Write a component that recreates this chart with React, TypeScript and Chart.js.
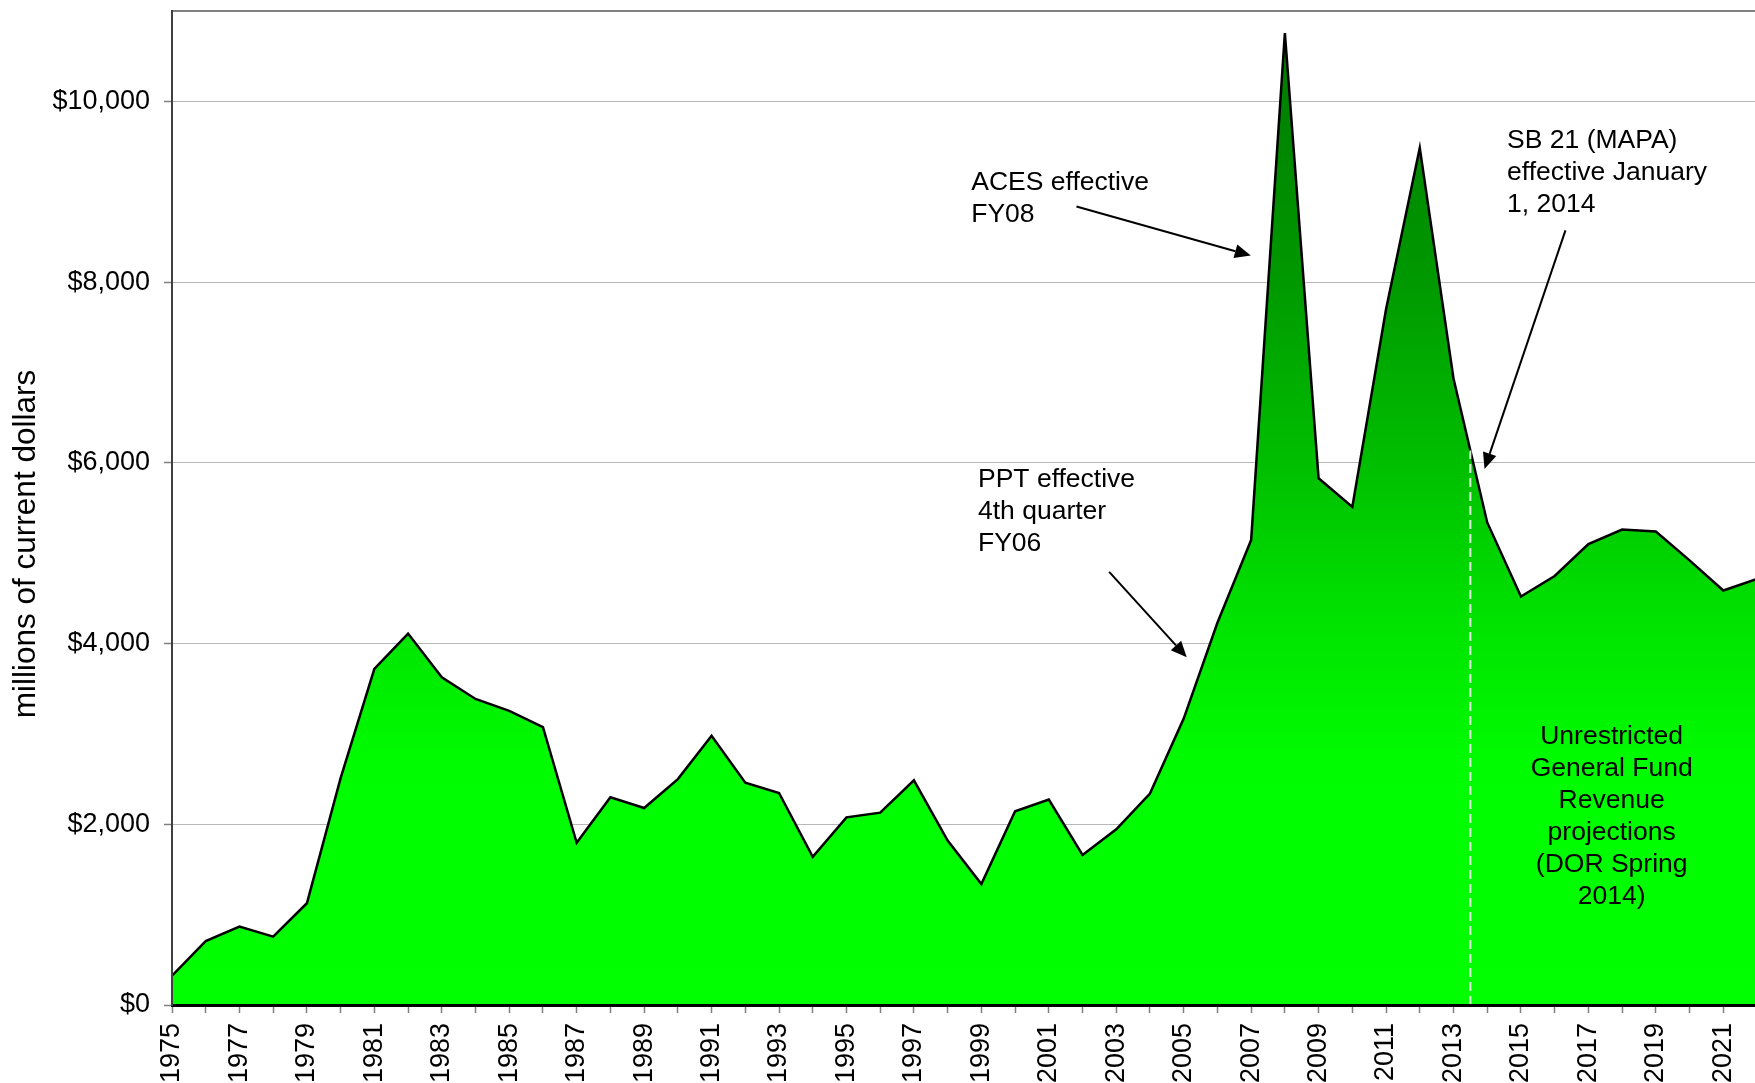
import React, { useEffect, useRef } from 'react';
import { Chart, registerables } from 'chart.js';

Chart.register(...registerables);

// ---------- data ----------
const years = [
  1975, 1976, 1977, 1978, 1979, 1980, 1981, 1982, 1983, 1984, 1985, 1986,
  1987, 1988, 1989, 1990, 1991, 1992, 1993, 1994, 1995, 1996, 1997, 1998,
  1999, 2000, 2001, 2002, 2003, 2004, 2005, 2006, 2007, 2008, 2009, 2010,
  2011, 2012, 2013, 2014, 2015, 2016, 2017, 2018, 2019, 2020, 2021, 2022,
];
const revenue = [
  324, 708, 867, 756, 1126, 2510, 3719, 4110, 3627, 3387, 3255, 3075,
  1795, 2299, 2180, 2500, 2980, 2461, 2346, 1641, 2077, 2129, 2487, 1819,
  1339, 2144, 2273, 1660, 1944, 2340, 3170, 4230, 5147, 10755, 5829, 5512,
  7700, 9486, 6933, 5340, 4521, 4748, 5100, 5261, 5240, 4921, 4587, 4714,
];
const labeledYears = [
  1975, 1977, 1979, 1981, 1983, 1985, 1987, 1989, 1991, 1993, 1995, 1997,
  1999, 2001, 2003, 2005, 2007, 2009, 2011, 2013, 2015, 2017, 2019, 2021,
];
const yTickValues = [0, 2000, 4000, 6000, 8000, 10000];
const yAxisTitle = 'millions of current dollars';
const projectionStart = 2013.5;

type Note = {
  lines: string[];
  x: number; // year
  y: number; // value at first baseline
  align: CanvasTextAlign;
  arrowFrom?: [number, number];
  arrowTo?: [number, number];
};

const notes: Note[] = [
  {
    lines: ['ACES effective', 'FY08'],
    x: 1998.7, y: 9020, align: 'left',
    arrowFrom: [2001.82, 8836], arrowTo: [2006.99, 8294],
  },
  {
    lines: ['PPT effective', '4th quarter', 'FY06'],
    x: 1998.9, y: 5733, align: 'left',
    arrowFrom: [2002.79, 4793], arrowTo: [2005.09, 3848],
  },
  {
    lines: ['SB 21 (MAPA)', 'effective January', '1, 2014'],
    x: 2014.59, y: 9480, align: 'left',
    arrowFrom: [2016.32, 8573], arrowTo: [2013.92, 5932],
  },
  {
    lines: ['Unrestricted', 'General Fund', 'Revenue', 'projections', '(DOR Spring', '2014)'],
    x: 2017.69, y: 2889, align: 'center',
  },
];

// ---------- helpers ----------
const FONT = 'Arial, "Liberation Sans", sans-serif';
const LINE_HEIGHT = 32;

function valueAt(year: number): number {
  for (let i = 0; i < years.length - 1; i++) {
    if (year >= years[i] && year <= years[i + 1]) {
      const t = (year - years[i]) / (years[i + 1] - years[i]);
      return revenue[i] + t * (revenue[i + 1] - revenue[i]);
    }
  }
  return 0;
}

const maxValue = Math.max(...revenue);

const annotationPlugin = {
  id: 'notesPlugin',
  afterDatasetsDraw(chart: any) {
    const { ctx, chartArea, scales } = chart;
    const xs = scales.x;
    const ys = scales.y;
    ctx.save();
    // top border of plot area
    ctx.strokeStyle = '#808080';
    ctx.lineWidth = 2;
    ctx.beginPath();
    ctx.moveTo(chartArea.left, chartArea.top);
    ctx.lineTo(chartArea.right, chartArea.top);
    ctx.stroke();

    ctx.font = `26.5px ${FONT}`;
    ctx.fillStyle = '#000';
    ctx.strokeStyle = '#000';
    for (const n of notes) {
      ctx.textAlign = n.align;
      ctx.textBaseline = 'alphabetic';
      const px = xs.getPixelForValue(n.x);
      const py = ys.getPixelForValue(n.y);
      n.lines.forEach((line, i) => ctx.fillText(line, px, py + i * LINE_HEIGHT));
      if (n.arrowFrom && n.arrowTo) {
        const x1 = xs.getPixelForValue(n.arrowFrom[0]);
        const y1 = ys.getPixelForValue(n.arrowFrom[1]);
        const x2 = xs.getPixelForValue(n.arrowTo[0]);
        const y2 = ys.getPixelForValue(n.arrowTo[1]);
        const ang = Math.atan2(y2 - y1, x2 - x1);
        const headLen = 16;
        const headHalf = 7;
        const bx = x2 - headLen * Math.cos(ang);
        const by = y2 - headLen * Math.sin(ang);
        ctx.lineWidth = 2;
        ctx.beginPath();
        ctx.moveTo(x1, y1);
        ctx.lineTo(bx, by);
        ctx.stroke();
        ctx.beginPath();
        ctx.moveTo(x2, y2);
        ctx.lineTo(bx + headHalf * Math.sin(ang), by - headHalf * Math.cos(ang));
        ctx.lineTo(bx - headHalf * Math.sin(ang), by + headHalf * Math.cos(ang));
        ctx.closePath();
        ctx.fill();
      }
    }

    // y-axis title
    ctx.translate(26, (chartArea.top + chartArea.bottom) / 2 + 36);
    ctx.rotate(-Math.PI / 2);
    ctx.textAlign = 'center';
    ctx.textBaseline = 'middle';
    ctx.font = `31.5px ${FONT}`;
    ctx.fillText(yAxisTitle, 0, 0);
    ctx.restore();
  },
};

export default function App() {
  const ref = useRef<HTMLCanvasElement>(null);

  useEffect(() => {
    if (!ref.current) return;
    const areaData = years.map((yr, i) => ({ x: yr, y: revenue[i] }));
    const dashData = [
      { x: projectionStart, y: 0 },
      { x: projectionStart, y: valueAt(projectionStart) },
    ];

    const chart = new Chart(ref.current, {
      type: 'line',
      data: {
        datasets: [
          {
            label: 'projection start',
            data: dashData,
            borderColor: 'rgba(235,250,235,0.95)',
            borderWidth: 2,
            borderDash: [9, 5],
            pointRadius: 0,
            fill: false,
            order: 0,
          },
          {
            label: 'Unrestricted General Fund Revenue',
            data: areaData,
            borderColor: '#000',
            borderWidth: 2.5,
            pointRadius: 0,
            tension: 0,
            fill: 'origin',
            order: 1,
            backgroundColor: (c: any) => {
              const ch = c.chart;
              const { chartArea, scales } = ch;
              if (!chartArea || !scales.y) return 'rgb(0,255,0)';
              const y0 = scales.y.getPixelForValue(0);
              const y1 = scales.y.getPixelForValue(maxValue);
              const g = ch.ctx.createLinearGradient(0, y0, 0, y1);
              g.addColorStop(0, 'rgb(0,255,0)');
              g.addColorStop(0.25, 'rgb(0,252,0)');
              g.addColorStop(0.4, 'rgb(0,226,0)');
              g.addColorStop(0.55, 'rgb(0,192,0)');
              g.addColorStop(0.75, 'rgb(0,152,0)');
              g.addColorStop(1, 'rgb(0,122,0)');
              return g;
            },
          },
        ],
      },
      options: {
        responsive: false,
        animation: false,
        devicePixelRatio: 1,
        layout: { padding: { top: 11, right: 3, left: 0, bottom: 0 } },
        plugins: {
          legend: { display: false },
          tooltip: { enabled: false },
        },
        scales: {
          x: {
            type: 'linear',
            min: 1975,
            max: 2022,
            afterBuildTicks: (s: any) => {
              s.ticks = years.map((v) => ({ value: v }));
            },
            afterFit: (s: any) => {
              s.height = 78;
              s.paddingLeft = 0;
              s.paddingRight = 0;
            },
            grid: {
              drawOnChartArea: false,
              drawTicks: true,
              tickLength: 8,
              tickColor: '#808080',
              tickWidth: 1.5,
            },
            border: { display: true, color: '#000', width: 3, z: 1 },
            ticks: {
              autoSkip: false,
              minRotation: 90,
              maxRotation: 90,
              padding: 10,
              color: '#000',
              font: { family: FONT, size: 27 },
              callback: (v: any) => (labeledYears.includes(Number(v)) ? String(v) : ''),
            },
          },
          y: {
            type: 'linear',
            min: 0,
            max: 11000,
            afterBuildTicks: (s: any) => {
              s.ticks = yTickValues.map((v) => ({ value: v }));
            },
            afterFit: (s: any) => {
              s.width = 172;
              s.paddingTop = 0;
              s.paddingBottom = 0;
            },
            grid: {
              color: '#b8b8b8',
              lineWidth: 1,
              drawTicks: true,
              tickLength: 8,
              tickColor: '#808080',
              tickWidth: 1.5,
            },
            border: { display: true, color: '#404040', width: 2, z: 1 },
            ticks: {
              padding: 14,
              color: '#000',
              font: { family: FONT, size: 27 },
              callback: (v: any) => '$' + Number(v).toLocaleString('en-US'),
            },
          },
        },
      },
      plugins: [annotationPlugin],
    } as any);

    return () => chart.destroy();
  }, []);

  return (
    <div
      style={{
        position: 'absolute',
        left: 0,
        top: 0,
        width: 1755,
        height: 1083,
        overflow: 'hidden',
        background: '#fff',
      }}
    >
      <canvas ref={ref} width={1760} height={1083} style={{ display: 'block' }} />
    </div>
  );
}
